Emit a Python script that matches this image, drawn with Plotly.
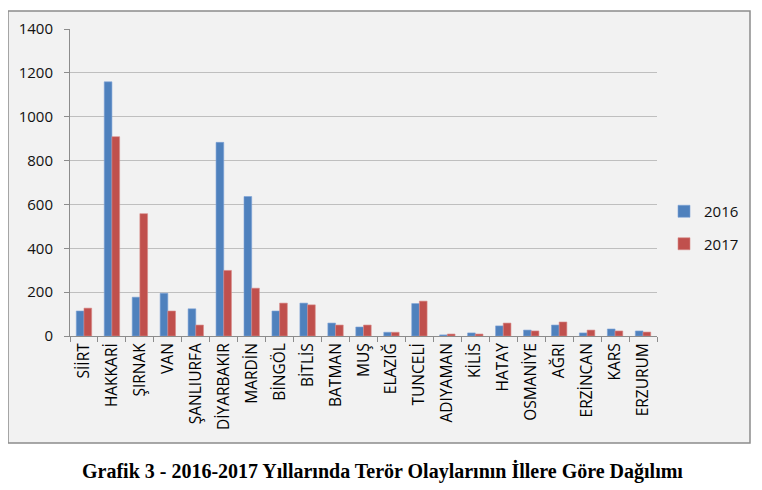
import plotly.graph_objects as go

provinces = ["SİİRT", "HAKKARİ", "ŞIRNAK", "VAN", "ŞANLIURFA", "DİYARBAKIR", "MARDİN",
             "BİNGÖL", "BİTLİS", "BATMAN", "MUŞ", "ELAZIĞ", "TUNCELİ", "ADIYAMAN",
             "KİLİS", "HATAY", "OSMANİYE", "AĞRI", "ERZİNCAN", "KARS", "ERZURUM"]
v2016 = [114, 1159, 177, 195, 124, 883, 636, 114, 150, 59, 41, 17, 148, 5, 14, 46, 27, 50, 14, 32, 23]
v2017 = [127, 909, 558, 114, 50, 299, 218, 150, 142, 50, 50, 17, 159, 9, 9, 59, 23, 64, 27, 23, 18]
y_ticks = [0, 200, 400, 600, 800, 1000, 1200, 1400]
title_text = "Grafik 3 - 2016-2017 Yıllarında Terör Olaylarının İllere Göre Dağılımı"

# page offset (body margin) compensation
OFF = 8
W, H = 762 - OFF, 490 - OFF
L, R, T, B = 70 - OFF, 657 - OFF, 29 - OFF, 336 - OFF
pw, ph = R - L, B - T

def px(x):
    return (x - OFF - L) / pw

def py(y):
    return (B - (y - OFF)) / ph

fig = go.Figure()
fig.add_trace(go.Bar(x=provinces, y=v2016, name="2016", legendgroup="a",
                     marker=dict(color="#4f81bd", line=dict(color="#7da2d6", width=0.6))))
fig.add_trace(go.Bar(x=provinces, y=v2017, name="2017", legendgroup="b",
                     marker=dict(color="#c0504d", line=dict(color="#d98a88", width=0.6))))

fig.add_shape(type="rect", xref="paper", yref="paper",
              x0=px(8), x1=px(750), y0=py(443), y1=py(11),
              fillcolor="#f2f2f2", line=dict(color="#8c8c8c", width=1.5), layer="below")

fig.add_annotation(text="<b>" + title_text + "</b>", xref="paper", yref="paper",
                   x=px(382), y=py(471), xanchor="center", yanchor="middle", showarrow=False,
                   font=dict(family="Liberation Serif", size=20, color="#000000"))

fig.update_layout(
    width=W, height=H,
    margin=dict(l=L, r=W - R, t=T, b=H - B),
    paper_bgcolor="white", plot_bgcolor="rgba(0,0,0,0)",
    barmode="group", bargap=0.45, bargroupgap=0,
    font=dict(family="Open Sans", color="#111111"),
    legend=dict(x=px(664), y=py(195), xanchor="left", yanchor="top",
                bgcolor="rgba(0,0,0,0)", font=dict(size=15, color="#111111"),
                itemwidth=30, tracegroupgap=10),
    xaxis=dict(showgrid=False, showline=True, linecolor="#8c8c8c", linewidth=1,
               ticks="outside", tickson="boundaries", ticklen=5, tickcolor="#8c8c8c",
               tickangle=-90, tickfont=dict(size=15.5, color="#000000"), automargin=False),
    yaxis=dict(range=[0, 1400], tickvals=y_ticks, showgrid=True, gridcolor="#bfbfbf",
               gridwidth=1, showline=True, linecolor="#8c8c8c", linewidth=1,
               ticks="outside", ticklen=5, tickcolor="#8c8c8c", ticklabelstandoff=8,
               tickfont=dict(size=15, color="#111111"), zeroline=False, automargin=False),
)

fig.write_html("out.html")
